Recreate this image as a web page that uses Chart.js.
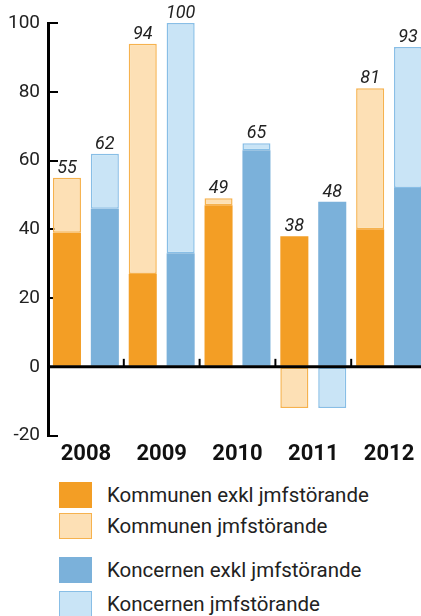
<!DOCTYPE html>
<html>
<head>
<meta charset="utf-8">
<script src="https://cdn.jsdelivr.net/npm/chart.js@4.4.0/dist/chart.umd.min.js"></script>
<style>
  body { margin: 0; width: 421px; height: 616px; overflow: hidden; background: #fff; position: relative;
         font-family: Roboto, "Liberation Sans", sans-serif; }
  #wrap { position: absolute; left: 0; top: 0; width: 427px; height: 476px; }
  .item { position: absolute; left: 59px; height: 26px; display: flex; align-items: center; }
  .box { width: 33px; height: 26px; box-sizing: border-box; flex: none; }
  .txt { margin-left: 15px; font-size: 20.5px; color: #222; white-space: nowrap; }
</style>
</head>
<body>
<div id="wrap"><canvas id="myChart"></canvas></div>
<div id="legend"></div>
<script>
//DATA
const years = ["2008", "2009", "2010", "2011", "2012"];
const kommunExkl = [39, 27, 47, 38, 40];
const kommunJmf = [16, 67, 2, -12, 41];
const koncernExkl = [46, 33, 63, 48, 52];
const koncernJmf = [16, 67, 2, -12, 41];
const kommunTotal = ["55", "94", "49", "38", "81"];
const koncernTotal = ["62", "100", "65", "48", "93"];
const yTicks = [-20, 0, 20, 40, 60, 80, 100];

const FONT = 'Roboto, "Liberation Sans", sans-serif';

//PLUGINS
const zeroLine = {
  id: "zeroLine",
  afterDatasetsDraw(chart) {
    const ctx = chart.ctx;
    const area = chart.chartArea;
    const x = chart.scales.x;
    const y0 = chart.scales.y.getPixelForValue(0);
    ctx.save();
    ctx.strokeStyle = "#000";
    ctx.lineWidth = 3;
    ctx.beginPath();
    ctx.moveTo(area.left, y0);
    ctx.lineTo(area.right, y0);
    ctx.stroke();
    ctx.lineWidth = 2;
    for (let i = 1; i < years.length; i++) {
      const xb = (x.getPixelForValue(i - 1) + x.getPixelForValue(i)) / 2;
      ctx.beginPath();
      ctx.moveTo(xb, y0);
      ctx.lineTo(xb, y0 - 8);
      ctx.stroke();
    }
    ctx.restore();
  },
};

const totals = {
  id: "totals",
  afterDatasetsDraw(chart) {
    const ctx = chart.ctx;
    ctx.save();
    ctx.font = "italic 18px " + FONT;
    ctx.fillStyle = "#222";
    ctx.textAlign = "center";
    ctx.textBaseline = "alphabetic";
    [[0, 1, kommunTotal], [2, 3, koncernTotal]].forEach(([a, b, labels]) => {
      labels.forEach((txt, i) => {
        const e1 = chart.getDatasetMeta(a).data[i];
        const e2 = chart.getDatasetMeta(b).data[i];
        const top = Math.min(e1.y, e1.base, e2.y, e2.base);
        ctx.fillText(txt, e1.x, top - 5);
      });
    });
    ctx.restore();
  },
};

//CHART
const data = {
  labels: years,
  datasets: [
    { label: "Kommunen exkl jmfstörande", data: kommunExkl, stack: "kommun",
      backgroundColor: "#f39e25", borderColor: "#f39e25", borderWidth: 0 },
    { label: "Kommunen jmfstörande", data: kommunJmf, stack: "kommun",
      backgroundColor: "#fde0b5", borderColor: "#f6b24e", borderWidth: 1.5, borderSkipped: false },
    { label: "Koncernen exkl jmfstörande", data: koncernExkl, stack: "koncern",
      backgroundColor: "#7bb1da", borderColor: "#7bb1da", borderWidth: 0 },
    { label: "Koncernen jmfstörande", data: koncernJmf, stack: "koncern",
      backgroundColor: "#c9e4f6", borderColor: "#88bee6", borderWidth: 1.5, borderSkipped: false },
  ],
};

const config = {
  type: "bar",
  data: data,
  plugins: [zeroLine, totals],
  options: {
    responsive: true,
    maintainAspectRatio: false,
    animation: false,
    categoryPercentage: 1,
    barPercentage: 0.74,
    layout: { padding: { top: 23, bottom: 2, left: 0, right: 0 } },
    plugins: {
      legend: { display: false },
      tooltip: { enabled: false },
    },
    scales: {
      x: {
        stacked: true,
        grid: { display: false, drawTicks: false },
        border: { display: false },
        ticks: { padding: 6, color: "#111", font: { family: FONT, size: 22, weight: "bold" } },
      },
      y: {
        stacked: true,
        min: -20,
        max: 100,
        afterFit(s) {
          s.width = 48;
          s.paddingTop = 0;
          s.paddingBottom = 0;
        },
        afterBuildTicks(s) { s.ticks = yTicks.map((v) => ({ value: v })); },
        border: { display: true, color: "#000", width: 3 },
        grid: { drawOnChartArea: false, drawTicks: true, tickLength: -10, color: "#000", lineWidth: 2 },
        ticks: { padding: 18, color: "#222", font: { family: FONT, size: 19 } },
      },
    },
  },
};
const myChart = new Chart(document.getElementById("myChart"), config);

//LEGEND
const legendTops = [482, 513, 557, 591];
let texto = "";
data.datasets.forEach((ds, i) => {
  const border = ds.borderWidth ? `border:1px solid ${ds.borderColor};` : "";
  texto += `
    <div class="item" style="top:${legendTops[i]}px">
      <div class="box" style="background:${ds.backgroundColor};${border}"></div>
      <span class="txt">${ds.label}</span>
    </div>`;
});
document.getElementById("legend").innerHTML = texto;
</script>
</body>
</html>
